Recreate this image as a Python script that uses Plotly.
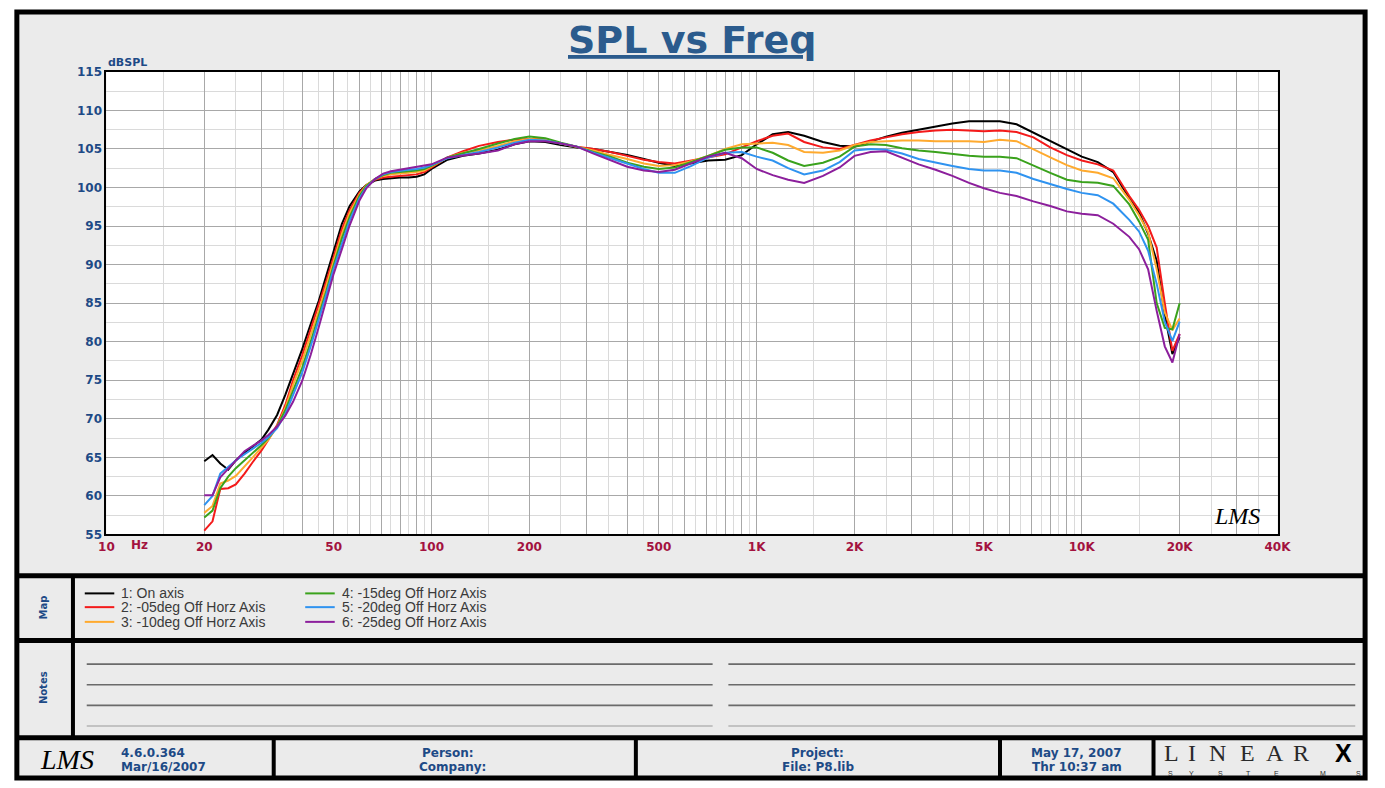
import math
import plotly.graph_objects as go

W, H = 1385, 788

# ---------------- data ----------------
FREQ = [20, 21.2, 22.4, 23.7, 25, 26.6, 28.2, 30, 31.5, 33.5,
        35.5, 37.5, 40, 42.5, 45, 47.5, 50, 53, 56, 60,
        63, 67, 71, 75, 80, 85, 90, 95, 100, 112,
        125, 140, 160, 180, 200, 224, 250, 280, 315, 355,
        400, 450, 500, 560, 630, 710, 800, 900, 1000, 1120,
        1250, 1400, 1600, 1800, 2000, 2240, 2500, 2800, 3150, 3550,
        4000, 4500, 5000, 5600, 6300, 7100, 8000, 9000, 10000, 11200,
        12500, 14000, 15000, 16000, 17000, 18000, 19000, 20000]

ON_AXIS = [64.5, 65.3, 64.2, 63.4, 64.6, 65.6, 66.4, 67.3, 68.6, 70.5,
           73.1, 75.8, 79.0, 82.3, 85.3, 88.6, 91.6, 95.3, 97.6, 99.5,
           100.3, 100.9, 101.1, 101.2, 101.3, 101.3, 101.4, 101.7, 102.4, 103.6,
           104.1, 104.4, 104.9, 105.6, 106.0, 105.9, 105.5, 105.2, 105.0, 104.6,
           104.2, 103.7, 103.2, 102.8, 103.1, 103.5, 103.6, 104.2, 105.6, 106.9,
           107.2, 106.7, 105.9, 105.4, 105.3, 106.0, 106.6, 107.1, 107.5, 107.9,
           108.3, 108.6, 108.6, 108.6, 108.2, 107.1, 106.1, 105.0, 104.0, 103.3,
           102.0, 98.6, 96.8, 94.0, 90.5, 83.5, 78.4, 80.6]

OFF_05 = [55.5, 56.7, 60.9, 61.0, 61.5, 62.9, 64.4, 65.9, 67.3, 69.2,
          71.8, 75.0, 78.2, 81.6, 84.6, 87.9, 91.0, 94.6, 97.1, 99.3,
          100.3, 101.0, 101.3, 101.4, 101.5, 101.6, 101.7, 102.0, 102.6, 103.9,
          104.7, 105.4, 105.9, 106.2, 106.3, 106.3, 105.7, 105.3, 105.0, 104.6,
          104.1, 103.6, 103.3, 103.1, 103.5, 103.9, 104.3, 105.2, 106.0, 106.7,
          107.0, 105.9, 105.2, 105.0, 105.5, 106.1, 106.5, 106.9, 107.2, 107.4,
          107.5, 107.4, 107.3, 107.4, 107.2, 106.5, 105.2, 104.2, 103.5, 103.0,
          102.2, 98.9, 97.1, 95.0, 92.2, 85.0, 78.8, 81.0]

OFF_10 = [57.8, 58.7, 61.6, 62.0, 62.6, 63.8, 65.0, 66.3, 67.3, 69.0,
          71.4, 74.4, 77.5, 80.9, 84.0, 87.3, 90.5, 94.0, 96.7, 99.1,
          100.3, 101.1, 101.5, 101.7, 101.8, 101.9, 102.0, 102.2, 102.7, 103.9,
          104.5, 104.8, 105.4, 106.0, 106.3, 106.2, 105.7, 105.3, 104.8, 104.2,
          103.7, 103.1, 102.8, 102.9, 103.4, 104.1, 105.0, 105.6, 105.7, 105.8,
          105.5, 104.6, 104.5, 104.8, 105.5, 105.9, 106.0, 106.1, 106.1, 106.0,
          106.0, 106.0, 105.9, 106.2, 106.0, 105.0, 103.9, 102.9, 102.2, 101.9,
          101.2, 98.4, 96.4, 94.2, 89.4, 83.8, 81.5, 83.0]

OFF_15 = [57.2, 58.1, 61.0, 62.5, 63.6, 64.6, 65.6, 66.6, 67.5, 69.0,
          71.1, 73.7, 76.6, 80.0, 83.3, 86.6, 89.9, 93.4, 96.2, 98.9,
          100.2, 101.1, 101.6, 101.9, 102.0, 102.1, 102.2, 102.4, 102.8, 103.9,
          104.4, 105.0, 105.7, 106.3, 106.6, 106.4, 105.8, 105.3, 104.6, 104.0,
          103.2, 102.7, 102.4, 102.6, 103.3, 104.1, 104.9, 105.2, 105.2, 104.5,
          103.5, 102.8, 103.2, 104.0, 105.3, 105.6, 105.5, 105.1, 104.8, 104.6,
          104.3, 104.1, 104.0, 104.0, 103.8, 102.8, 101.9, 101.0, 100.7, 100.6,
          100.2, 97.8, 95.6, 93.2, 85.0, 81.8, 81.6, 85.0]

OFF_20 = [58.8, 60.0, 62.9, 63.8, 64.6, 65.4, 66.1, 66.9, 67.6, 68.8,
          70.6, 73.0, 76.0, 79.4, 82.8, 86.2, 89.5, 92.8, 95.7, 98.6,
          100.0, 101.1, 101.7, 102.0, 102.2, 102.3, 102.4, 102.6, 102.9, 103.8,
          104.2, 104.6, 105.2, 105.8, 106.2, 106.1, 105.7, 105.3, 104.5, 103.8,
          103.1, 102.4, 101.9, 101.9, 102.8, 103.9, 104.5, 104.6, 104.0, 103.5,
          102.5, 101.7, 102.2, 103.3, 104.8, 105.0, 104.9, 104.4, 103.7, 103.2,
          102.8, 102.4, 102.2, 102.2, 101.9, 101.1, 100.4, 99.8, 99.3, 99.0,
          97.9, 95.8, 94.3, 91.8, 87.5, 82.6, 80.1, 82.6]

OFF_25 = [60.1, 60.1, 62.4, 63.5, 64.6, 65.8, 66.5, 67.2, 67.9, 69.0,
          70.4, 72.2, 74.9, 78.3, 81.9, 85.4, 88.8, 92.0, 95.1, 98.3,
          99.9, 101.1, 101.8, 102.1, 102.3, 102.4, 102.6, 102.8, 103.0, 103.9,
          104.1, 104.4, 104.8, 105.6, 106.0, 106.0, 105.7, 105.3, 104.4, 103.6,
          102.7, 102.2, 102.0, 102.3, 103.1, 104.0, 104.5, 103.8, 102.4, 101.6,
          101.0, 100.6, 101.5, 102.6, 104.1, 104.6, 104.7, 103.9, 103.0, 102.3,
          101.5, 100.6, 99.9, 99.3, 98.9, 98.2, 97.6, 96.9, 96.6, 96.4,
          95.3, 93.6, 92.0, 89.4, 84.0, 79.4, 77.3, 81.0]

SERIES_NAMES = ["1: On axis", "2: -05deg Off Horz Axis", "3: -10deg Off Horz Axis",
                "4: -15deg Off Horz Axis", "5: -20deg Off Horz Axis", "6: -25deg Off Horz Axis"]
SERIES_VALUES = [ON_AXIS, OFF_05, OFF_10, OFF_15, OFF_20, OFF_25]
SERIES_COLORS = ["#000000", "#f41a1a", "#ffaa2e", "#3aa21c", "#2f93f0", "#8c1f9c"]

X_LABELS = {10: "10", 20: "20", 50: "50", 100: "100", 200: "200", 500: "500",
            1000: "1K", 2000: "2K", 5000: "5K", 10000: "10K", 20000: "20K", 40000: "40K"}
Y_TICKS = [55, 60, 65, 70, 75, 80, 85, 90, 95, 100, 105, 110, 115]

# ---------------- helpers ----------------
def X(p):
    return p / W


def Y(p):
    return 1 - p / H


major_x, minor_x = [], []
for dec in [10, 100, 1000, 10000]:
    for k in range(1, 10):
        v = k * dec
        if v <= 40000:
            major_x.append(v)
        m = (k + 0.5) * dec
        if m < 40000:
            minor_x.append(m)
minor_y = [v + 2.5 for v in Y_TICKS[:-1]]

fig = go.Figure()
for name, vals, col in zip(SERIES_NAMES, SERIES_VALUES, SERIES_COLORS):
    fig.add_trace(go.Scatter(x=FREQ, y=vals, mode="lines", name=name,
                             line=dict(color=col, width=2), showlegend=False,
                             hoverinfo="x+y+name"))

BLUE = "#1d4a86"
LABEL_FONT = "DejaVu Sans"

fig.update_xaxes(type="log", range=[1, math.log10(40000)],
                 domain=[X(100), X(1290)],
                 tickmode="array", tickvals=major_x,
                 ticktext=[X_LABELS.get(v, "") for v in major_x],
                 showgrid=True, gridcolor="#a8a8a8", gridwidth=1,
                 minor=dict(tickmode="array", tickvals=minor_x, showgrid=True,
                            gridcolor="#dadada", gridwidth=1, ticks=""),
                 ticks="", showline=True, linecolor="black", linewidth=2, mirror=True,
                 zeroline=False,
                 tickfont=dict(family=LABEL_FONT, size=12, color="#a3123f", weight="bold"))
fig.update_yaxes(range=[55, 115], domain=[Y(537), Y(66)],
                 tickmode="array", tickvals=Y_TICKS, ticktext=[str(v) for v in Y_TICKS],
                 showgrid=True, gridcolor="#a8a8a8", gridwidth=1,
                 minor=dict(tickmode="array", tickvals=minor_y, showgrid=True,
                            gridcolor="#dadada", gridwidth=1, ticks=""),
                 ticks="", showline=True, linecolor="black", linewidth=2, mirror=True,
                 zeroline=False,
                 tickfont=dict(family=LABEL_FONT, size=12, color=BLUE, weight="bold"))

shapes = []
# panel background and outer frame
shapes.append(dict(type="rect", xref="paper", yref="paper", x0=X(9), x1=X(1379),
                   y0=Y(785), y1=Y(5), fillcolor="#ebebeb",
                   line=dict(color="black", width=5), layer="below"))
shapes.append(dict(type="rect", xref="paper", yref="paper", x0=X(100), x1=X(1290),
                   y0=Y(537), y1=Y(66), fillcolor="white", line=dict(width=0), layer="below"))
# horizontal separators
for yy in [579, 645, 744]:
    shapes.append(dict(type="line", xref="paper", yref="paper", x0=X(9), x1=X(1379),
                       y0=Y(yy), y1=Y(yy), line=dict(color="black", width=5), layer="below"))
# label column
shapes.append(dict(type="line", xref="paper", yref="paper", x0=X(66), x1=X(66),
                   y0=Y(579), y1=Y(744), line=dict(color="black", width=4), layer="below"))
# footer separators
for xx in [270, 638, 1008, 1164]:
    shapes.append(dict(type="line", xref="paper", yref="paper", x0=X(xx), x1=X(xx),
                       y0=Y(744), y1=Y(785), line=dict(color="black", width=4), layer="below"))
# notes lines
for yy, col in [(669, "#6a6a6a"), (690, "#6a6a6a"), (711, "#6a6a6a"), (732, "#b4b4b4")]:
    for xa, xb in [(80, 716), (732, 1369)]:
        shapes.append(dict(type="line", xref="paper", yref="paper", x0=X(xa), x1=X(xb),
                           y0=Y(yy), y1=Y(yy), line=dict(color=col, width=1.6), layer="below"))

annotations = []


def ann(text, x, y, size, color=BLUE, family=LABEL_FONT, weight="bold", xanchor="center",
        yanchor="middle", angle=0, style="normal"):
    annotations.append(dict(text=text, xref="paper", yref="paper", x=X(x), y=Y(y),
                            xanchor=xanchor, yanchor=yanchor, showarrow=False,
                            textangle=angle,
                            font=dict(family=family, size=size, color=color,
                                      weight=weight, style=style)))


# title and axis texts
ann("<u>SPL vs Freq</u>", 696, 34, 38, color="#2b5b8d")
ann("dBSPL", 100, 56, 11, xanchor="left")
ann("Hz", 123, 548, 12, color="#a3123f", xanchor="left")
ann("LMS", 1249, 518, 24, color="black", family="Liberation Serif", weight="normal",
    style="italic")

# legend (manual, two columns)
rows = [597, 611, 626]
for i, (name, col) in enumerate(zip(SERIES_NAMES, SERIES_COLORS)):
    cx = 78 if i < 3 else 302
    ry = rows[i % 3]
    shapes.append(dict(type="line", xref="paper", yref="paper", x0=X(cx), x1=X(cx + 30),
                       y0=Y(ry), y1=Y(ry), line=dict(color=col, width=2)))
    ann(name, cx + 35, ry, 14, color="#3a3a3a", family="Liberation Sans", weight="normal",
        xanchor="left")

# section labels
ann("Map", 36, 611, 10, angle=-90)
ann("Notes", 36, 693, 10, angle=-90)

# footer
ann("LMS", 60, 766, 28, color="black", family="Liberation Serif", weight="normal",
    style="italic")
ann("4.6.0.364", 113, 759, 12, xanchor="left")
ann("Mar/16/2007", 113, 774, 12, xanchor="left")
ann("Person:", 447, 759, 12)
ann("Company:", 452, 774, 12)
ann("Project:", 823, 759, 12)
ann("File: P8.lib", 823, 774, 12)
ann("May 17, 2007", 1086, 759, 12)
ann("Thr 10:37 am", 1086, 774, 12)
for ch, xx in zip("LINEAR", [1182, 1203, 1229, 1259, 1287, 1314]):
    ann(ch, xx, 760, 24, color="#2a2a2a", family="Liberation Serif", weight="normal")
ann("X", 1357, 760, 25, color="black", family="Liberation Sans", weight="bold")
for ch, xx in zip("SYSTEMS", [1181, 1203, 1232, 1261, 1289, 1336, 1372]):
    ann(ch, xx, 780, 7, color="#2a2a2a", family="Liberation Sans", weight="normal")

fig.update_layout(autosize=True, margin=dict(l=0, r=0, t=0, b=0),
                  paper_bgcolor="white", plot_bgcolor="white",
                  shapes=shapes, annotations=annotations, showlegend=False)

fig.write_html("out.html",
               default_width="100vw", default_height="100vh",
               config={"displayModeBar": False, "responsive": True},
               post_script="document.documentElement.style.margin='0px';"
                           "document.documentElement.style.overflow='hidden';"
                           "document.body.style.margin='0px';"
                           "document.body.style.overflow='hidden';"
                           "Plotly.Plots.resize(document.getElementById('{plot_id}'));")
